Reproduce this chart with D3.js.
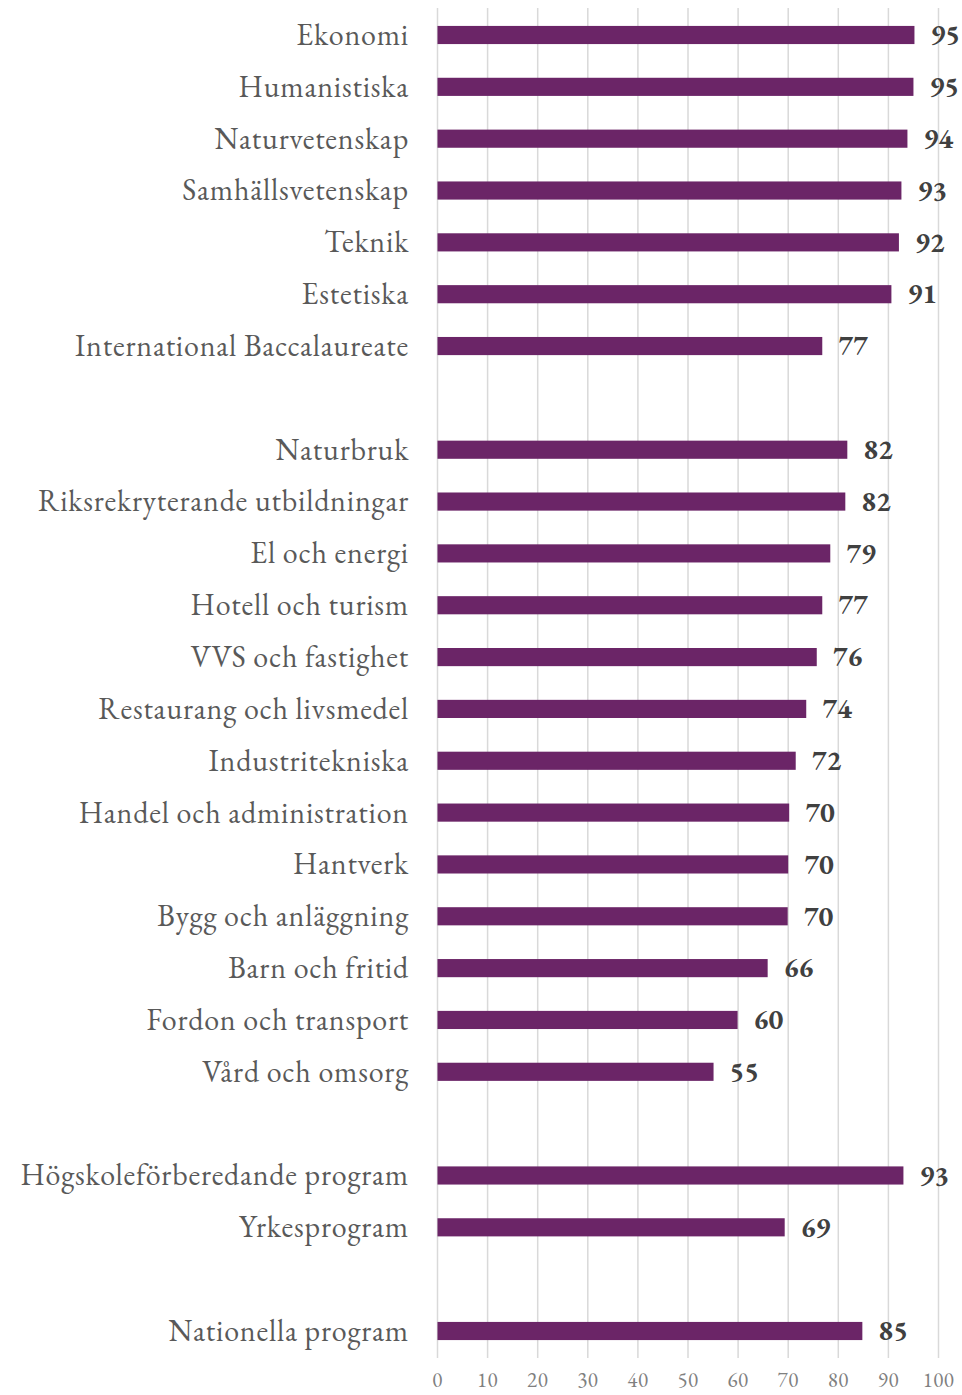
<!DOCTYPE html>
<html><head><meta charset="utf-8">
<script src="https://cdn.jsdelivr.net/npm/d3@7"></script>
<style>body{margin:0;background:#fff}svg{display:block}</style>
</head><body>
<svg id="c" width="962" height="1395"></svg>
<script>
const categories = ["Ekonomi","Humanistiska","Naturvetenskap","Samhällsvetenskap","Teknik","Estetiska","International Baccalaureate","",
"Naturbruk","Riksrekryterande utbildningar","El och energi","Hotell och turism","VVS och fastighet","Restaurang och livsmedel","Industritekniska","Handel och administration","Hantverk","Bygg och anläggning","Barn och fritid","Fordon och transport","Vård och omsorg"," ",
"Högskoleförberedande program","Yrkesprogram","  ","Nationella program"];
const values = [95.2,95.0,93.8,92.6,92.1,90.6,76.8,null,81.8,81.4,78.4,76.8,75.7,73.6,71.5,70.2,70.0,69.9,65.9,59.9,55.1,null,93.0,69.3,null,84.8];
const valueLabels = ["95","95","94","93","92","91","77","","82","82","79","77","76","74","72","70","70","70","66","60","55","","93","69","","85"];
const tickValues = [0,10,20,30,40,50,60,70,80,90,100];

const svg = d3.select("#c");
const x = d3.scaleLinear().domain([0,100]).range([437.5,938.5]);
const step = 51.84;
const y = d3.scaleBand().domain(d3.range(categories.length)).range([35 - step/2, 35 - step/2 + step*categories.length]).paddingInner(0.65).paddingOuter(0.325);
const barColor = "#6b2567";
const serif = "'EB Garamond','Garamond','Liberation Serif','DejaVu Serif',serif";

// gridlines
svg.append("g").selectAll("line").data(tickValues).join("line")
  .attr("x1", d=>x(d)).attr("x2", d=>x(d)).attr("y1", 8).attr("y2", 1358)
  .attr("stroke","#d9d9d9").attr("stroke-width",1.5);

// axis labels
svg.append("g").selectAll("text").data(tickValues).join("text")
  .attr("x", d=>x(d)).attr("y", 1387).attr("text-anchor","middle")
  .attr("font-family", serif).attr("font-size", 21).attr("letter-spacing", 0.5).attr("fill","#808080").text(d=>d);

const rows = categories.map((c,i)=>({c, v: values[i], l: valueLabels[i], i})).filter(d=>d.v!=null);

svg.append("g").selectAll("rect").data(rows).join("rect")
  .attr("x", x(0)).attr("y", d=>y(d.i)).attr("width", d=>x(d.v)-x(0)).attr("height", y.bandwidth())
  .attr("fill", barColor);

svg.append("g").selectAll("text").data(rows).join("text")
  .attr("x", 409).attr("y", d=>y(d.i)+y.bandwidth()/2).attr("dy","0.33em").attr("text-anchor","end")
  .attr("font-family", serif).attr("font-size", 30).attr("letter-spacing", 0.8).attr("fill","#595959").text(d=>d.c);

svg.append("g").selectAll("text").data(rows).join("text")
  .attr("x", d=>x(d.v)+16).attr("y", d=>y(d.i)+y.bandwidth()/2).attr("dy","0.33em")
  .attr("font-family", serif).attr("font-size", 28).attr("font-weight","bold").attr("fill","#404040").text(d=>d.l);
</script>
</body></html>
